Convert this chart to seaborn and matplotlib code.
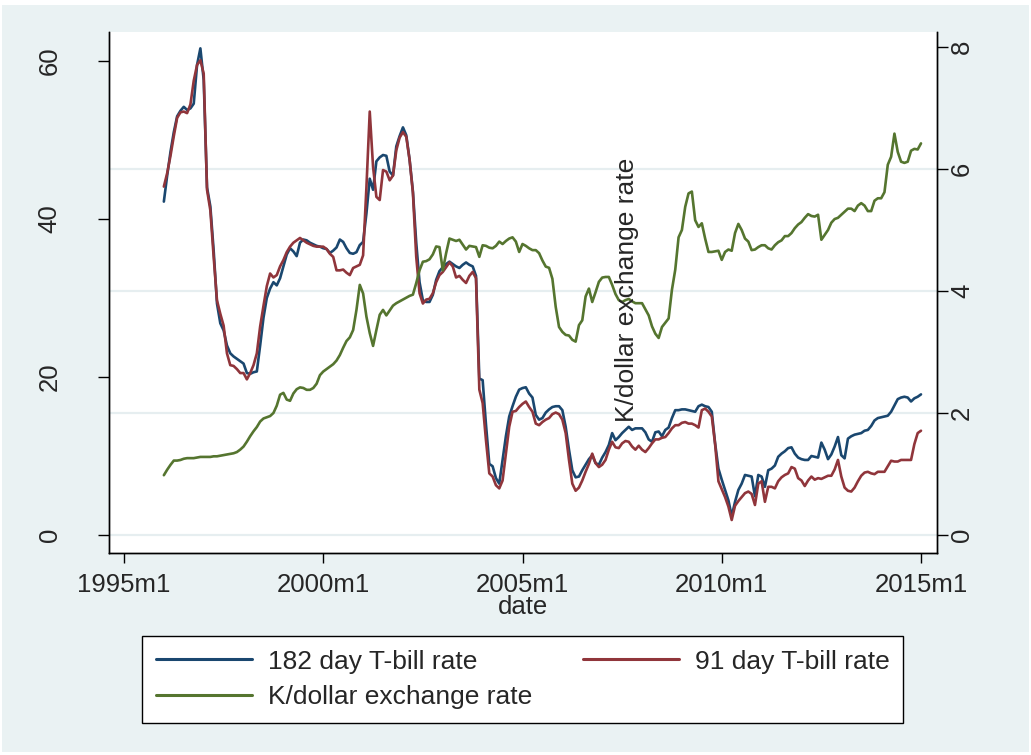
import numpy as np
import pandas as pd
import matplotlib
matplotlib.use("Agg")
import matplotlib.pyplot as plt
import matplotlib.transforms as mtransforms
from matplotlib.patches import Rectangle
from matplotlib.lines import Line2D
import seaborn as sns

# ---------------- data (monthly, 1996m1 .. 2015m1) ----------------
start_month = "1996-01"
end_month = "2015-01"

tbill_182 = [
    42.2, 45.5, 48.5, 51.0, 53.0, 53.7, 54.2, 53.8, 54.0, 54.6, 59.5, 61.6,   # 1996
    57.6, 44.0, 41.6, 36.0, 29.3, 26.8, 25.9, 24.0, 23.0, 22.6, 22.3, 22.0,   # 1997
    21.7, 20.5, 20.4, 20.6, 20.7, 24.0, 27.5, 30.0, 31.2, 32.0, 31.6, 32.5,   # 1998
    34.0, 35.5, 36.3, 35.9, 35.3, 37.0, 37.4, 37.3, 37.0, 36.8, 36.6, 36.5,   # 1999
    36.3, 36.2, 35.7, 36.0, 36.4, 37.4, 37.1, 36.3, 35.7, 35.6, 35.8, 36.7,   # 2000
    37.1, 40.7, 45.1, 43.7, 47.3, 47.8, 48.1, 48.0, 46.0, 45.5, 49.2, 50.5,   # 2001
    51.6, 50.6, 47.5, 43.5, 37.0, 32.0, 29.7, 29.5, 29.5, 30.4, 32.3, 33.4,   # 2002
    33.9, 34.3, 34.6, 34.3, 34.0, 33.8, 34.2, 34.5, 34.2, 34.0, 32.8, 19.8,   # 2003
    19.6, 14.0, 9.0, 8.7, 7.2, 6.5, 9.5, 12.5, 15.0, 16.3, 17.5, 18.4,        # 2004
    18.6, 18.7, 17.9, 17.4, 15.2, 14.6, 14.8, 15.5, 15.9, 16.2, 16.3, 16.3,   # 2005
    15.8, 13.7, 10.8, 8.2, 7.3, 7.4, 8.2, 8.9, 9.6, 10.1, 9.1, 8.9,           # 2006
    9.8, 10.5, 11.4, 12.9, 12.0, 12.4, 12.9, 13.3, 13.7, 13.3, 13.5, 13.5,    # 2007
    13.5, 13.0, 12.1, 11.8, 13.0, 13.1, 12.5, 13.3, 13.6, 14.8, 15.8, 15.8,   # 2008
    15.9, 15.9, 15.8, 15.7, 15.6, 16.3, 16.5, 16.3, 16.2, 15.6, 11.6, 8.4,    # 2009
    7.0, 5.7, 4.4, 2.4, 4.2, 5.7, 6.5, 7.6, 7.5, 7.4, 4.9, 7.6,               # 2010
    7.4, 6.1, 8.2, 8.4, 8.8, 9.9, 10.3, 10.6, 11.0, 11.1, 10.3, 9.8,          # 2011
    9.6, 9.5, 9.5, 10.0, 9.9, 9.8, 11.7, 10.8, 9.6, 10.2, 11.2, 12.4,         # 2012
    10.1, 9.7, 12.2, 12.5, 12.7, 12.8, 12.9, 13.2, 13.3, 13.8, 14.5, 14.8,    # 2013
    14.9, 15.0, 15.1, 15.6, 16.4, 17.2, 17.4, 17.5, 17.4, 16.9, 17.3, 17.5,   # 2014
    17.8,                                                                     # 2015m1
]

tbill_91 = [
    44.1, 45.8, 48.0, 50.5, 52.8, 53.5, 53.6, 53.4, 54.5, 57.5, 59.5, 60.1,   # 1996
    58.4, 43.7, 41.1, 35.2, 29.7, 28.0, 26.5, 23.0, 21.5, 21.4, 21.0, 20.5,   # 1997
    20.5, 19.7, 20.5, 21.5, 23.0, 26.4, 29.0, 31.5, 33.1, 32.6, 32.9, 34.0,   # 1998
    34.8, 35.8, 36.5, 37.0, 37.3, 37.6, 37.3, 37.0, 36.8, 36.6, 36.5, 36.5,   # 1999
    36.5, 36.2, 35.6, 35.2, 33.5, 33.5, 33.6, 33.2, 32.9, 33.8, 34.0, 34.2,   # 2000
    35.4, 44.0, 53.6, 46.6, 42.8, 42.4, 46.2, 46.0, 44.9, 45.5, 48.7, 50.3,   # 2001
    51.0, 50.4, 47.5, 43.3, 35.2, 30.6, 29.3, 29.8, 29.9, 30.6, 32.0, 32.9,   # 2002
    33.3, 33.9, 34.5, 34.0, 32.6, 32.8, 32.3, 31.9, 32.8, 33.3, 32.5, 18.4,   # 2003
    16.7, 12.0, 7.8, 7.4, 6.3, 5.9, 6.9, 10.3, 13.7, 15.6, 15.7, 16.2,        # 2004
    16.6, 16.9, 16.2, 15.6, 14.1, 13.9, 14.3, 14.6, 14.8, 15.3, 15.5, 15.3,   # 2005
    14.6, 12.9, 9.5, 6.5, 5.6, 6.0, 6.9, 8.0, 9.0, 10.3, 9.1, 8.6,            # 2006
    8.9, 9.5, 10.8, 11.8, 11.1, 11.0, 11.6, 11.9, 11.8, 11.2, 10.8, 11.3,     # 2007
    10.8, 10.5, 11.0, 11.6, 12.1, 12.1, 12.3, 12.4, 12.9, 13.5, 13.9, 13.9,   # 2008
    14.2, 14.3, 14.1, 14.1, 13.9, 13.6, 15.8, 16.0, 15.6, 15.0, 11.5, 6.8,    # 2009
    5.8, 4.8, 3.6, 1.9, 3.7, 4.3, 4.8, 5.3, 5.5, 5.2, 3.8, 6.5,               # 2010
    6.8, 4.2, 6.1, 6.1, 5.9, 6.8, 7.3, 7.6, 7.8, 8.6, 8.4, 7.2,               # 2011
    6.9, 6.2, 6.9, 7.4, 7.0, 7.2, 7.1, 7.3, 7.5, 7.5, 8.3, 9.5,               # 2012
    7.4, 6.0, 5.6, 5.5, 6.0, 6.8, 7.5, 7.9, 8.0, 7.8, 7.7, 8.0,               # 2013
    8.0, 8.0, 8.7, 9.4, 9.3, 9.3, 9.5, 9.5, 9.5, 9.5, 11.5, 12.9,             # 2014
    13.2,                                                                     # 2015m1
]

kdollar = [
    0.98, 1.07, 1.15, 1.22, 1.22, 1.23, 1.25, 1.26, 1.26, 1.26, 1.27, 1.28,   # 1996
    1.28, 1.28, 1.28, 1.29, 1.29, 1.30, 1.31, 1.32, 1.33, 1.34, 1.36, 1.40,   # 1997
    1.45, 1.53, 1.62, 1.70, 1.77, 1.86, 1.91, 1.93, 1.95, 2.00, 2.12, 2.30,   # 1998
    2.33, 2.22, 2.20, 2.32, 2.39, 2.42, 2.41, 2.38, 2.38, 2.41, 2.48, 2.62,   # 1999
    2.68, 2.72, 2.76, 2.80, 2.86, 2.95, 3.07, 3.18, 3.24, 3.36, 3.69, 4.10,   # 2000
    3.96, 3.58, 3.31, 3.10, 3.36, 3.61, 3.69, 3.60, 3.68, 3.76, 3.80, 3.83,   # 2001
    3.86, 3.89, 3.92, 3.94, 4.13, 4.34, 4.48, 4.49, 4.52, 4.60, 4.73, 4.72,   # 2002
    4.34, 4.62, 4.86, 4.84, 4.82, 4.84, 4.76, 4.68, 4.74, 4.73, 4.72, 4.56,   # 2003
    4.75, 4.74, 4.71, 4.70, 4.74, 4.81, 4.77, 4.82, 4.86, 4.88, 4.81, 4.64,   # 2004
    4.77, 4.74, 4.70, 4.67, 4.67, 4.62, 4.50, 4.40, 4.38, 4.20, 3.74, 3.41,   # 2005
    3.33, 3.28, 3.27, 3.20, 3.17, 3.44, 3.52, 3.91, 4.04, 3.82, 3.98, 4.15,   # 2006
    4.22, 4.23, 4.23, 4.10, 3.95, 3.85, 3.82, 3.85, 3.87, 3.83, 3.80, 3.80,   # 2007
    3.80, 3.70, 3.60, 3.42, 3.30, 3.23, 3.41, 3.48, 3.55, 4.02, 4.35, 4.88,   # 2008
    5.00, 5.38, 5.60, 5.63, 5.16, 5.05, 5.11, 4.86, 4.64, 4.64, 4.65, 4.66,   # 2009
    4.51, 4.64, 4.68, 4.66, 4.95, 5.10, 5.00, 4.86, 4.81, 4.67, 4.68, 4.72,   # 2010
    4.75, 4.75, 4.70, 4.68, 4.75, 4.80, 4.83, 4.90, 4.90, 4.95, 5.03, 5.09,   # 2011
    5.13, 5.20, 5.26, 5.23, 5.22, 5.25, 4.84, 4.92, 5.00, 5.12, 5.18, 5.20,   # 2012
    5.25, 5.30, 5.35, 5.35, 5.31, 5.40, 5.44, 5.40, 5.31, 5.31, 5.48, 5.52,   # 2013
    5.52, 5.62, 6.07, 6.20, 6.58, 6.28, 6.12, 6.10, 6.12, 6.30, 6.33, 6.32,   # 2014
    6.42,                                                                     # 2015m1
]

series_labels = ["182 day T-bill rate", "91 day T-bill rate", "K/dollar exchange rate"]
x_ticks = [1995, 2000, 2005, 2010, 2015]
x_tick_labels = ["1995m1", "2000m1", "2005m1", "2010m1", "2015m1"]
left_ticks = [0, 20, 40, 60]
right_ticks = [0, 2, 4, 6, 8]
grid_ticks = [0, 2, 4, 6]
x_title = "date"
right_title = "K/dollar exchange rate"

# ---------------- style ----------------
BG = "#EAF2F3"
GRID = "#E6EEF0"
NAVY = "#1A476F"
MAROON = "#90353B"
GREEN = "#55752F"

sns.set_theme(style="white")
plt.rcParams["font.family"] = ["Liberation Sans", "DejaVu Sans"]

periods = pd.period_range(start_month, end_month, freq="M")
t = np.asarray(periods.year + (periods.month - 1) / 12.0, dtype=float)
df = pd.DataFrame({"t": t, "b182": tbill_182, "b91": tbill_91, "kd": kdollar})

W, H = 1031, 755
fig = plt.figure(figsize=(W / 100, H / 100), dpi=100)
fig.patch.set_facecolor("white")
fig.patches.append(Rectangle((2 / W, 3 / H), (W - 4) / W, (H - 8) / H,
                             transform=fig.transFigure, facecolor=BG,
                             edgecolor="none", zorder=-10))

L, R, T, B = 109, 937, 32, 553
ax = fig.add_axes([L / W, 1 - B / H, (R - L) / W, (B - T) / H])
ax.set_facecolor("white")
ax2 = ax.twinx()

LW = 1.9
sns.lineplot(data=df, x="t", y="b182", ax=ax, color=NAVY, linewidth=LW, legend=False)
sns.lineplot(data=df, x="t", y="b91", ax=ax, color=MAROON, linewidth=LW, legend=False)
sns.lineplot(data=df, x="t", y="kd", ax=ax2, color=GREEN, linewidth=LW, legend=False)

ax.set_xlim(1995 - 15 / 39.85, 2015 + 16 / 39.85)
ax.set_ylim(-18 / 7.9, 503 / 7.9)
ax2.set_ylim(-18 / 61.0, 488 / 61.0 + 15 / 61.0)

# gridlines positioned on the right-hand scale, drawn beneath all series
trans = mtransforms.blended_transform_factory(ax.transAxes, ax2.transData)
for g in grid_ticks:
    ax.add_line(Line2D([0, 1], [g, g], transform=trans, color=GRID,
                       linewidth=1.6, zorder=0.5))

for a in (ax, ax2):
    a.set_xlabel("")
    a.set_ylabel("")
    a.spines["top"].set_visible(False)
    for s in ("left", "right", "bottom"):
        a.spines[s].set_color("black")
        a.spines[s].set_linewidth(1.0)

FS = 18.5
ax.set_xticks(x_ticks)
ax.set_xticklabels(x_tick_labels)
ax.tick_params(axis="x", bottom=True, direction="out", length=7.5, width=1,
               color="black", labelsize=FS, pad=7)

ax.set_yticks(left_ticks)
ax.set_yticklabels([str(v) for v in left_ticks], rotation=90, va="center")
ax.tick_params(axis="y", left=True, direction="out", length=8, width=1,
               color="black", labelsize=FS, pad=26)

ax2.set_yticks(right_ticks)
ax2.set_yticklabels([str(v) for v in right_ticks], rotation=90, va="center")
ax2.tick_params(axis="y", right=True, direction="out", length=8, width=1,
                color="black", labelsize=FS, pad=1.5)

fig.text(523 / W, 1 - 607 / H, x_title, ha="center", va="center", fontsize=FS)
fig.text(627 / W, 1 - 290 / H, right_title, rotation=90, ha="center",
         va="center", fontsize=19, zorder=10)

handles = [Line2D([], [], color=NAVY, linewidth=2.2),
           Line2D([], [], color=GREEN, linewidth=2.2),
           Line2D([], [], color=MAROON, linewidth=2.2)]
labels = [series_labels[0], series_labels[2], series_labels[1]]
leg = fig.legend(handles, labels, ncol=2, loc="center",
                 bbox_to_anchor=(522.5 / W, 1 - 679.5 / H),
                 fontsize=19, frameon=True, fancybox=False, edgecolor="black",
                 facecolor="white", framealpha=1, handlelength=3.64,
                 handletextpad=0.6, columnspacing=1.93, borderpad=0.5,
                 labelspacing=0.45)
leg.get_frame().set_linewidth(1.0)

fig.savefig("out.png", dpi=100, facecolor=fig.get_facecolor())
